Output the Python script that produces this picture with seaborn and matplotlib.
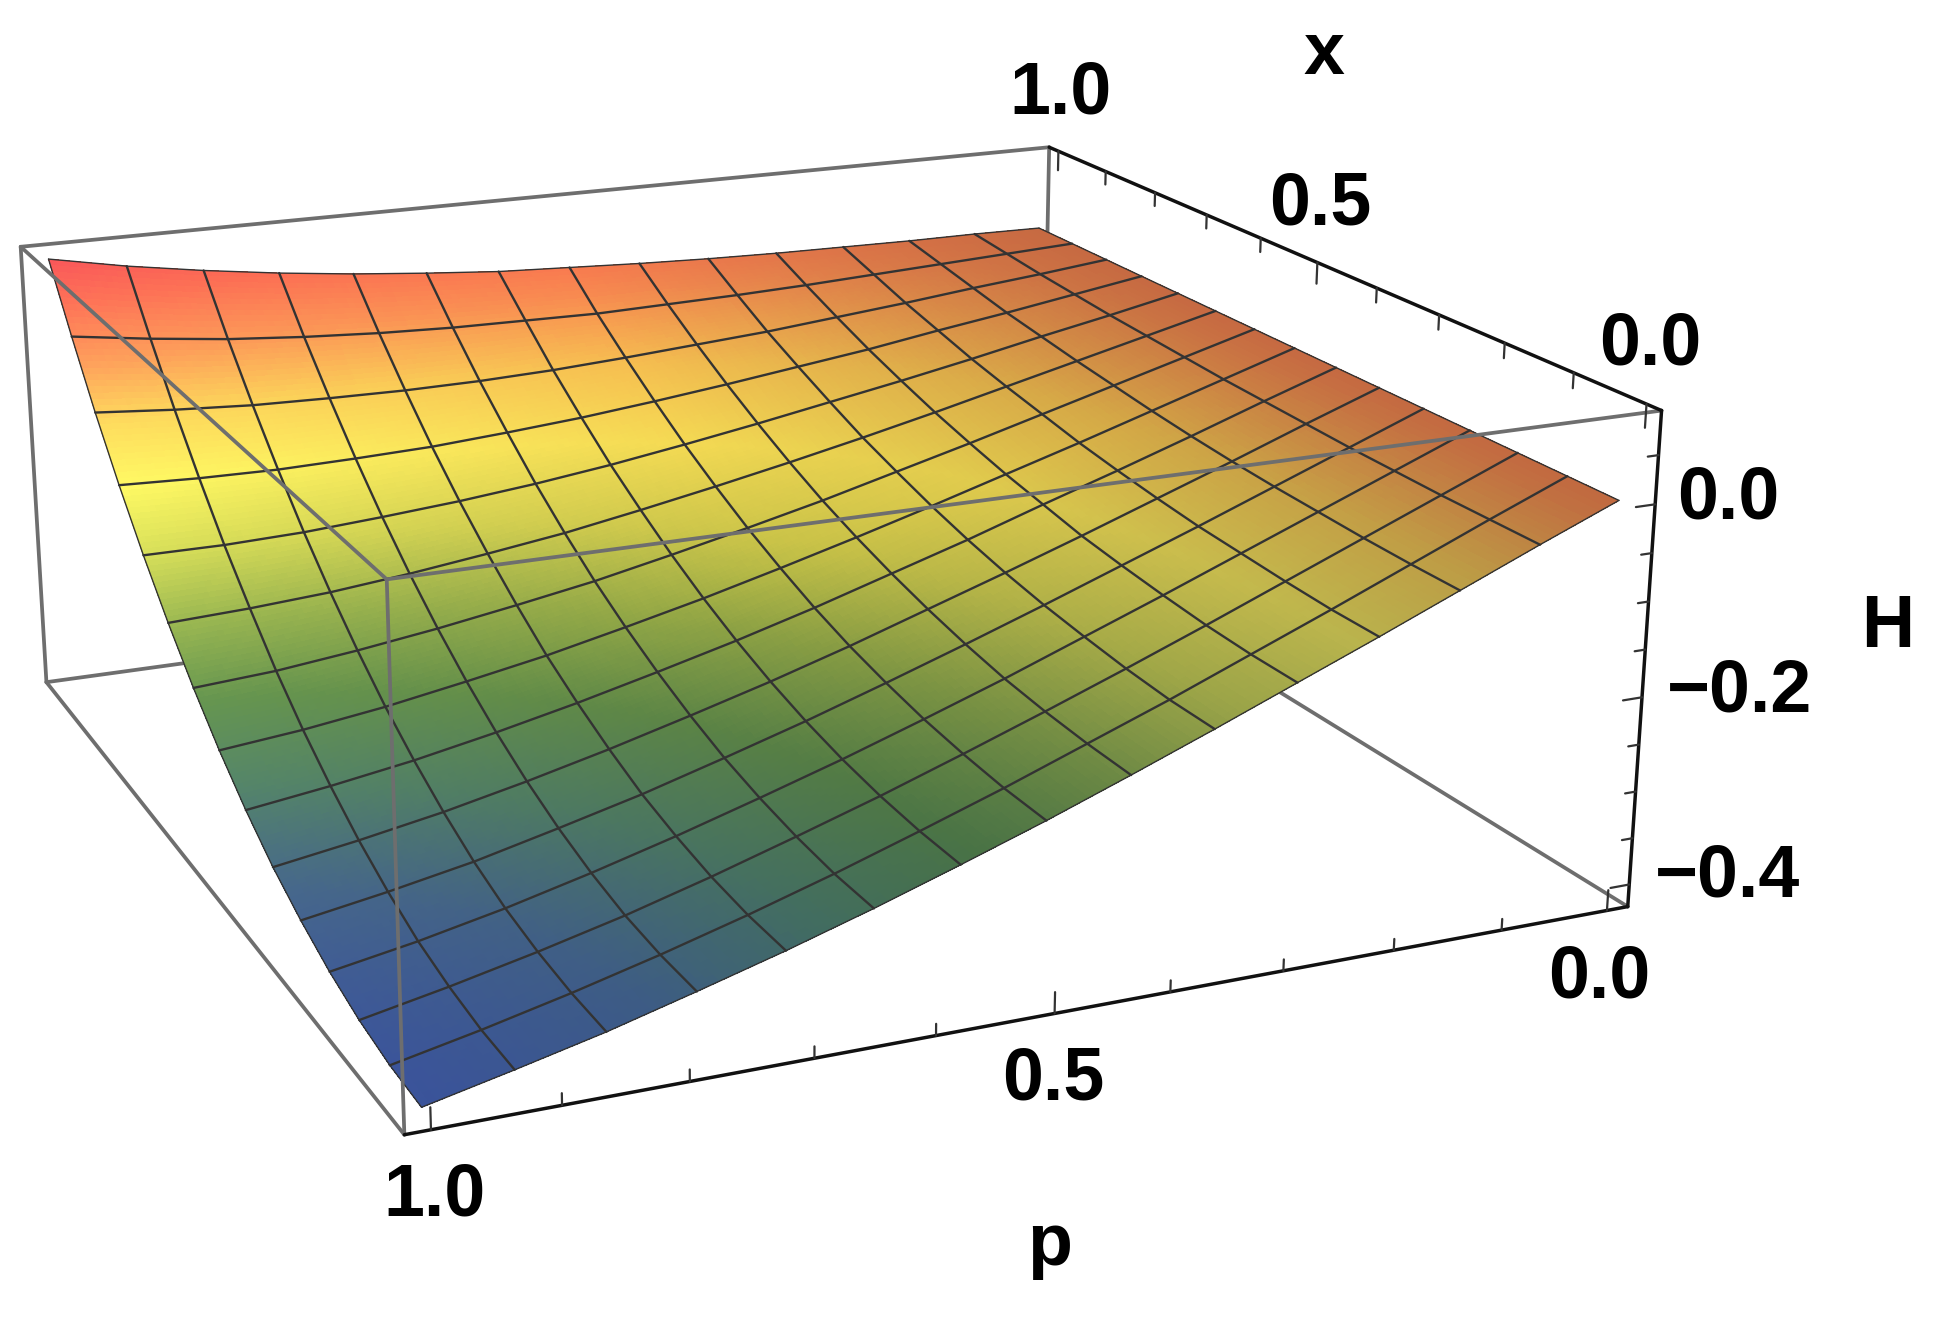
import numpy as np
import matplotlib
matplotlib.use('Agg')
import matplotlib.pyplot as plt
import seaborn as sns

# mesh positions of the surface, 14 cells each way
p_values = np.linspace(0, 1, 15)
x_values = np.linspace(0, 1, 15)

# H: one row per p (0 -> 1), one column per x (0 -> 1)
H_values = np.array([
    [0.000, 0.000, 0.000, 0.000, 0.000, 0.000, 0.000, 0.000, 0.000, 0.000, 0.000, 0.000, 0.000, 0.000, 0.000],
    [-0.034, -0.034, -0.034, -0.033, -0.032, -0.030, -0.028, -0.026, -0.023, -0.020, -0.017, -0.013, -0.009, -0.004, 0.001],
    [-0.069, -0.069, -0.068, -0.066, -0.064, -0.061, -0.057, -0.052, -0.046, -0.040, -0.033, -0.026, -0.017, -0.008, 0.001],
    [-0.104, -0.104, -0.102, -0.099, -0.096, -0.091, -0.085, -0.078, -0.069, -0.060, -0.050, -0.038, -0.026, -0.012, 0.002],
    [-0.138, -0.138, -0.136, -0.132, -0.127, -0.121, -0.112, -0.103, -0.092, -0.080, -0.066, -0.051, -0.034, -0.016, 0.003],
    [-0.172, -0.172, -0.169, -0.164, -0.158, -0.150, -0.140, -0.128, -0.114, -0.099, -0.081, -0.062, -0.042, -0.019, 0.005],
    [-0.205, -0.204, -0.201, -0.196, -0.188, -0.178, -0.166, -0.152, -0.136, -0.117, -0.096, -0.073, -0.048, -0.021, 0.008],
    [-0.237, -0.236, -0.232, -0.226, -0.217, -0.206, -0.192, -0.175, -0.156, -0.134, -0.110, -0.083, -0.054, -0.023, 0.012],
    [-0.267, -0.266, -0.262, -0.255, -0.245, -0.232, -0.216, -0.197, -0.175, -0.150, -0.123, -0.092, -0.059, -0.022, 0.016],
    [-0.296, -0.295, -0.290, -0.282, -0.271, -0.256, -0.238, -0.217, -0.193, -0.165, -0.134, -0.099, -0.062, -0.021, 0.023],
    [-0.323, -0.322, -0.317, -0.308, -0.296, -0.279, -0.259, -0.236, -0.208, -0.177, -0.143, -0.105, -0.063, -0.018, 0.031],
    [-0.348, -0.347, -0.342, -0.332, -0.318, -0.300, -0.278, -0.252, -0.222, -0.188, -0.150, -0.108, -0.062, -0.013, 0.041],
    [-0.372, -0.370, -0.364, -0.354, -0.339, -0.319, -0.295, -0.267, -0.234, -0.197, -0.156, -0.110, -0.060, -0.006, 0.053],
    [-0.393, -0.391, -0.384, -0.373, -0.356, -0.335, -0.309, -0.279, -0.244, -0.203, -0.159, -0.109, -0.055, 0.004, 0.067],
    [-0.413, -0.410, -0.402, -0.389, -0.371, -0.349, -0.321, -0.288, -0.250, -0.207, -0.159, -0.106, -0.048, 0.016, 0.084],
])

p_ticks = [0.0, 0.1, 0.2, 0.3, 0.4, 0.5, 0.6, 0.7, 0.8, 0.9, 1.0]
x_ticks = [0.0, 0.1, 0.2, 0.3, 0.4, 0.5, 0.6, 0.7, 0.8, 0.9, 1.0]
H_ticks = [0.05, 0.0, -0.05, -0.1, -0.15, -0.2, -0.25, -0.3, -0.35, -0.4]
p_major = [0.0, 0.5, 1.0]
x_major = [0.0, 0.5, 1.0]
H_major = [0.0, -0.2, -0.4]

# colours along H, evenly spaced from -0.41 to 0.09
H_colors = ['#3F5A9A', '#486A8C', '#55866A', '#669650', '#9AB852', '#D8E05A',
            '#FFFA64', '#FEDC5E', '#FEA05C', '#FE7458', '#F8505A']
# coloured lighting: rows p = 0, 0.5, 1 and columns x = 0, 0.5, 1
light_red = [[0.76, 0.78, 0.78],
             [0.68, 0.94, 0.98],
             [0.93, 1.00, 1.00]]
light_green = [[0.70, 0.70, 0.70],
               [0.74, 0.88, 0.86],
               [0.93, 1.00, 1.00]]
light_blue = [[0.70, 0.72, 0.72],
              [0.85, 0.80, 0.88],
              [1.00, 1.00, 1.00]]

P_LO, P_HI = -0.02, 1.02
X_LO, X_HI = -0.02, 1.02
H_LO, H_HI = -0.424, 0.095

sns.set_theme(style='white')
plt.rcParams['font.family'] = ['Liberation Sans', 'DejaVu Sans']

W, H = 1935, 1317
L, CX, CY = 1737.0, 757.0, 582.2
fig = plt.figure(figsize=(W / 100, H / 100), dpi=100)
ax = fig.add_axes([(CX - L / 2) / W, 1 - (CY + L / 2) / H, L / W, L / H], projection='3d')
ax.computed_zorder = False


def refine(values, n=12):
    # finer cells for the colour gradient only, the mesh uses the table itself
    fine = np.linspace(0, len(values) - 1, (len(values) - 1) * n + 1)
    return np.interp(fine, np.arange(len(values)), values)


p_fine = refine(p_values)
x_fine = refine(x_values)
H_fine = np.array([refine(col) for col in H_values.T]).T
H_fine = np.array([refine(row) for row in H_fine])
P_fine, X_fine = np.meshgrid(p_fine, x_fine, indexing='ij')

cmap = sns.blend_palette(H_colors, n_colors=256, as_cmap=True)
faces = cmap(np.clip((H_fine + 0.41) / 0.5, 0, 1))
for channel, table in enumerate([light_red, light_green, light_blue]):
    # bilinear lookup of the light table
    light = np.array([np.interp(x_fine, [0, 0.5, 1], row) for row in table])
    light = np.array([np.interp(p_fine, [0, 0.5, 1], col) for col in light.T]).T
    faces[..., channel] *= light

GRAY = '#6E6E6E'
BLACK = '#111111'


def edge(a, b, color=GRAY, lw=2.7, z=1):
    ax.plot([a[0], b[0]], [a[1], b[1]], [a[2], b[2]], color=color, lw=lw, zorder=z,
            solid_capstyle='round', clip_on=False)


# box corners
A, B, C, D = [(P_HI, X_HI, H_HI), (P_HI, X_LO, H_HI), (P_LO, X_LO, H_HI), (P_LO, X_HI, H_HI)]
E, F, G, K = [(P_HI, X_HI, H_LO), (P_HI, X_LO, H_LO), (P_LO, X_LO, H_LO), (P_LO, X_HI, H_LO)]

# back of the box, hidden by the surface
edge(A, D)
edge(A, E)
edge(D, K)
edge(E, K)
edge(G, K)

ax.plot_surface(P_fine, X_fine, H_fine, facecolors=faces, rstride=1, cstride=1,
                shade=False, linewidth=0, antialiased=False, zorder=2)

for i, p in enumerate(p_values):
    lw = 1.0 if i in (0, 14) else 1.7
    ax.plot(np.full(15, p), x_values, H_values[i], color='#333333', lw=lw, zorder=3)
for j, x in enumerate(x_values):
    lw = 1.0 if j in (0, 14) else 1.7
    ax.plot(p_values, np.full(15, x), H_values[:, j], color='#333333', lw=lw, zorder=3)

# front of the box, over the surface
edge(A, B, z=4)
edge(B, C, z=4)
edge(B, F, z=4)
edge(E, F, z=4)
edge(F, G, color=BLACK, lw=2.5, z=5)
edge(C, G, color=BLACK, lw=2.5, z=5)
edge(C, D, color=BLACK, lw=2.5, z=5)

for p in p_ticks:
    d = 0.022 if p in p_major else 0.012
    ax.plot([p, p], [X_LO, X_LO], [H_LO, H_LO + d], color='#333333', lw=1.6, zorder=5, clip_on=False)
for x in x_ticks:
    d = 0.024 if x in x_major else 0.016
    ax.plot([P_LO, P_LO], [x, x], [H_HI, H_HI - d], color='#333333', lw=1.6, zorder=5, clip_on=False)
for h in H_ticks:
    d = 0.018 if h in H_major else 0.010
    ax.plot([P_LO, P_LO + d], [X_LO, X_LO], [h, h], color='#333333', lw=1.6, zorder=5, clip_on=False)

ax.set_xlim(P_HI, P_LO)
ax.set_ylim(X_LO, X_HI)
ax.set_zlim(H_LO, H_HI)
ax.set_box_aspect((1, 1.002, 0.4009))
ax.view_init(18.026, -113.567, 0.033)
ax.set_proj_type('persp', focal_length=0.4391)
ax.set_axis_off()

# labels, placed in picture pixels
labels = [('1.0', 1061, 94), ('0.5', 1320, 205), ('0.0', 1650, 345), ('x', 1324, 55),
          ('0.0', 1728, 499), ('\u22120.2', 1740, 692), ('\u22120.4', 1728, 877), ('H', 1888, 627),
          ('0.0', 1599, 978), ('0.5', 1053, 1080), ('1.0', 434, 1196), ('p', 1050, 1246)]
for text, px, py in labels:
    fig.text(px / W, 1 - py / H, text, ha='center', va='center', fontsize=53,
             fontweight='bold', color='black')

fig.savefig('out.png', dpi=100)
